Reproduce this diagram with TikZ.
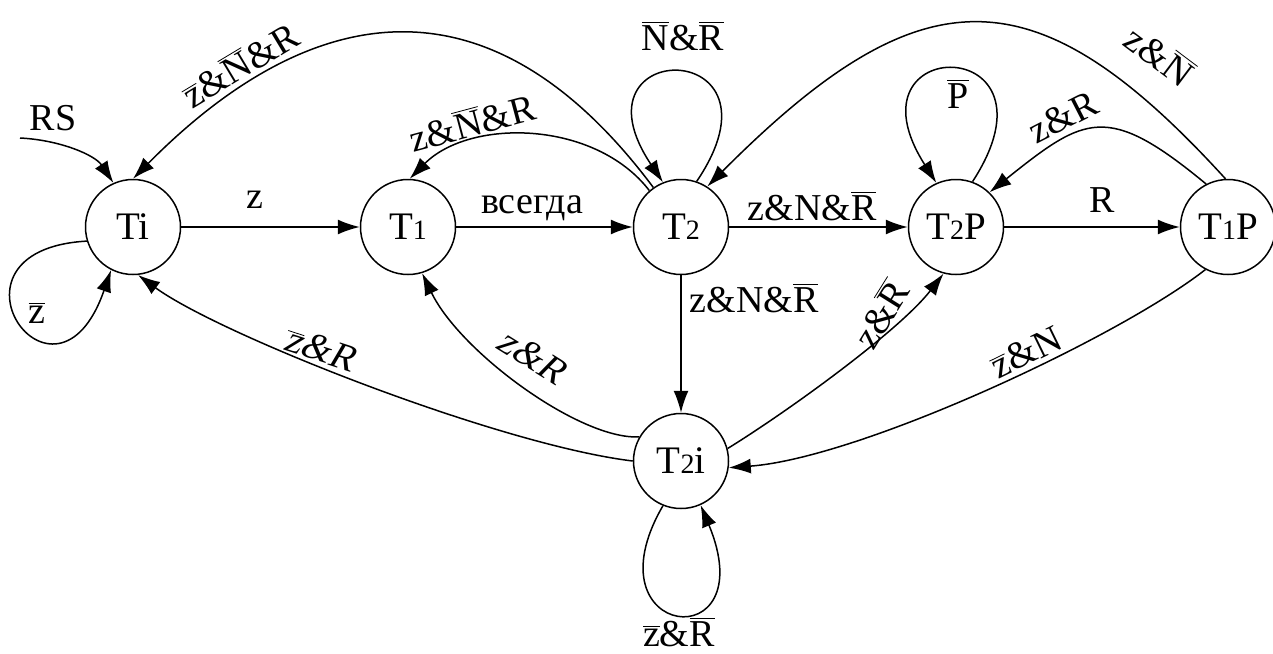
\documentclass[tikz,border=0pt]{standalone}
\usepackage{fontspec}
\setmainfont{Liberation Serif}
\newfontfamily\slfont[FakeSlant=0.22]{Liberation Serif}
\usetikzlibrary{arrows.meta}
\newcommand\ob[1]{$\overline{\mbox{#1}}$}
\newcommand\dg[1]{{\fontsize{14}{14}\selectfont #1}}
\begin{document}
\begin{tikzpicture}[x=0.5pt,y=0.5pt,
  st/.style={circle,draw,line width=0.75pt,minimum size=47.5pt,inner sep=0pt,font=\fontsize{19.5}{24}\selectfont},
  lb/.style={inner sep=0pt,font=\fontsize{19}{23}\selectfont},
  ed/.style={line width=0.75pt,-{Latex[length=11pt,width=7.5pt]}}]
\useasboundingbox (0,-653) rectangle (1273,0);
% states
\node[st] (Ti)  at (133,-227) {Ti};
\node[st] (T1)  at (408,-227) {T\dg{1}};
\node[st] (T2)  at (681,-227) {T\dg{2}};
\node[st] (T2P) at (956,-227) {T\dg{2}P};
\node[st] (T1P) at (1228,-227) {T\dg{1}P};
\node[st] (T2i) at (681,-461) {T\dg{2}i};
\coordinate (rs) at (20,-138);
% straight edges
\draw[ed] (Ti) -- (T1);
\draw[ed] (T1) -- (T2);
\draw[ed] (T2) -- (T2P);
\draw[ed] (T2P) -- (T1P);
\draw[ed] (T2) -- (T2i);
% curved edges
\draw[ed] (rs) .. controls (60,-140) and (95,-155) .. (Ti.114);
\draw[ed] (Ti.197) .. controls (-72,-250) and (55,-432) .. (Ti.243);
\draw[ed] (T2.125) .. controls (484,39) and (303,-7) .. (Ti.90);
\draw[ed] (T2.131) .. controls (595,-120) and (470,-118) .. (T1.88);
\draw[ed] (T2.71) .. controls (795,-36) and (565,-36) .. (T2.112);
\draw[ed] (T1P.93) .. controls (1036,29) and (923,30) .. (T2.57);
\draw[ed] (T2P.70) .. controls (1070,-32) and (840,-32) .. (T2P.114);
\draw[ed] (T1P.117) .. controls (1107,-102) and (1085,-116) .. (T2P.46);
\draw[ed] (T2i.15) .. controls (790,-410) and (900,-330) .. (T2P.255);
\draw[ed] (T1P.242) .. controls (1118,-338) and (860,-458) .. (T2i.352);
\draw[ed] (T2i.150) .. controls (580,-440) and (460,-352) .. (T1.287);
\draw[ed] (T2i.180) .. controls (500,-445) and (220,-335) .. (Ti.276);
\draw[ed] (T2i.248) .. controls (585,-640) and (765,-660) .. (T2i.294);
% labels
\node[lb] (lRS) at (53,-118) {RS};
\node[lb] (lzb) at (37,-313) {\ob{z}};
\node[lb] (lz) at (255,-200) {z};
\node[lb] (lvs) at (532,-208) {всегда};
\node[lb,rotate=31] (lbig) at (240,-64) {\ob{z}\&\ob{N}\&R};
\node[lb,rotate=15] (lsm) at (472,-122) {z\&\ob{N}\&R};
\node[lb] (lNR) at (683,-36) {\ob{N}\&\ob{R}};
\node[lb,rotate=-37] (lzN) at (1160,-55) {z\&\ob{N}};
\node[lb] (lzNR) at (812,-206) {z\&N\&\ob{R}};
\node[lb] (lP) at (958,-94) {\ob{P}};
\node[lb,rotate=27] (lzR1) at (1063,-117) {z\&R};
\node[lb] (lR) at (1102,-200) {R};
\node[lb] (lzNRv) at (754,-298) {z\&N\&\ob{R}};
\node[lb,rotate=58] (lzRb) at (880,-314) {z\&\ob{R}};
\node[lb,rotate=26] (lzbN) at (1026,-352) {\ob{z}\&N};
\node[lb,rotate=-32] (lzR2) at (532,-356) {\slfont z\&R};
\node[lb,rotate=-18] (lzbR) at (320,-349) {\slfont\ob{z}\&R};
\node[lb] (lzbRb) at (679,-632) {\ob{z}\&\ob{R}};
\end{tikzpicture}
\end{document}
